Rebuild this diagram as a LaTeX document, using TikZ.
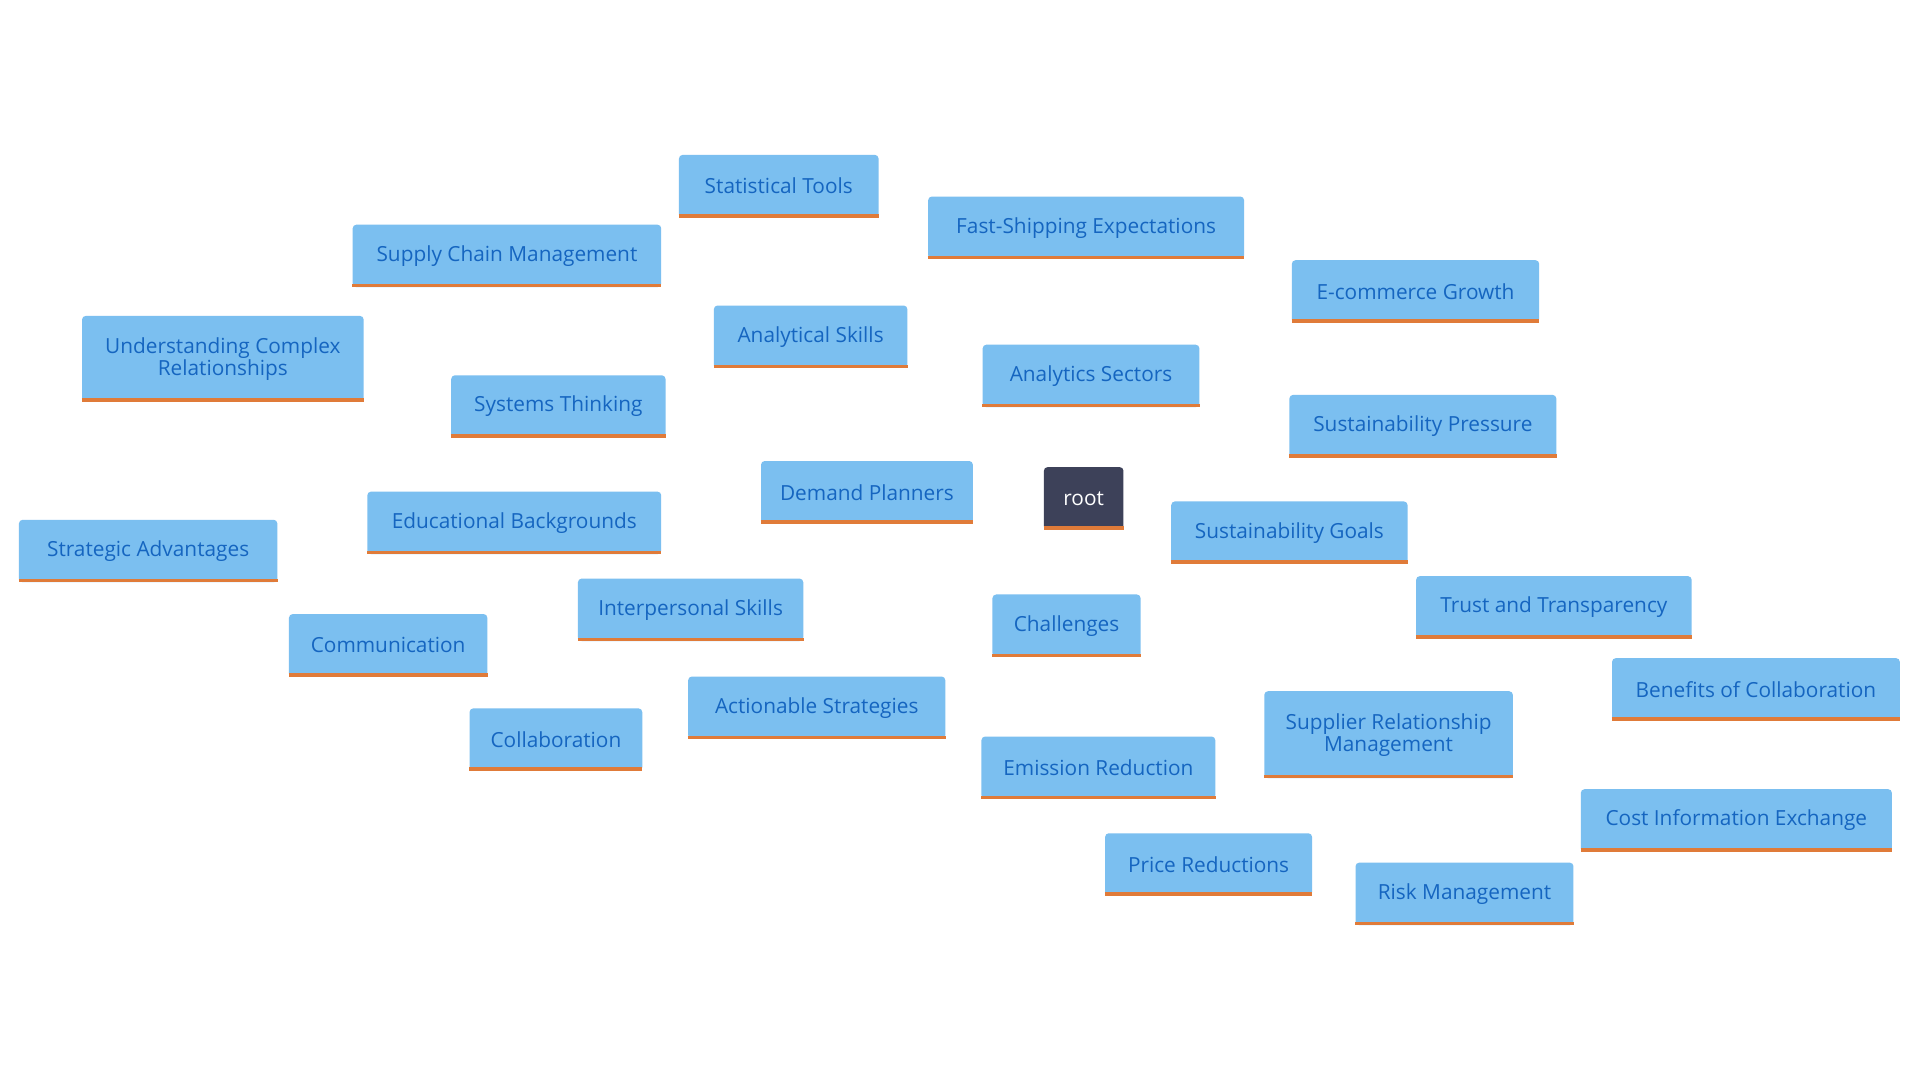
\documentclass[tikz,border=0pt]{standalone}
\usepackage{fontspec}
\setmainfont{Open Sans}
\usetikzlibrary{backgrounds}
\definecolor{bfill}{HTML}{7BBFF0}
\definecolor{btext}{HTML}{1565C0}
\definecolor{borange}{HTML}{E07B39}
\definecolor{rootc}{HTML}{3D4159}
\tikzset{
 box/.style={fill=bfill,text=btext,rounded corners=3pt,inner sep=0pt,align=center,font=\fontsize{17}{20}\selectfont},
 edge/.style={draw=bfill,line width=4pt},
}
\newcommand{\bx}[7][box]{\node[#1,minimum width=#5pt,minimum height=#6pt] (#2) at (#3,#4) {#7};
 \draw[borange,line width=3pt] ([yshift=1.5pt]#2.south west) -- ([yshift=1.5pt]#2.south east);}
\begin{document}
\begin{tikzpicture}[x=1pt,y=-1pt]
\path[use as bounding box,fill=white] (0,0) rectangle (1568,882);
\bx[box,fill=rootc,text=white]{root}{885}{407}{65}{51}{root}
\bx{dp}{708}{402}{173}{51}{Demand Planners}
\bx{as}{662}{275}{158}{51}{Analytical Skills}
\bx{st}{636}{152}{163}{51}{Statistical Tools}
\bx{scm}{414}{209}{252}{51}{Supply Chain Management}
\bx{sys}{456}{332}{175}{51}{Systems Thinking}
\bx{ucr}{182}{293}{230}{70}{Understanding Complex\\[-2pt]Relationships}
\bx{eb}{420}{427}{240}{51}{Educational Backgrounds}
\bx{sa}{121}{450}{211}{51}{Strategic Advantages}
\bx{is}{564}{498}{184}{51}{Interpersonal Skills}
\bx{com}{317}{527}{162}{51}{Communication}
\bx{col}{454}{604}{141}{51}{Collaboration}
\bx{an}{891}{307}{177}{51}{Analytics Sectors}
\bx{fse}{887}{186}{258}{51}{Fast-Shipping Expectations}
\bx{ecg}{1156}{238}{202}{51}{E-commerce Growth}
\bx{sp}{1162}{348}{218}{51}{Sustainability Pressure}
\bx{ch}{871}{511}{121}{51}{Challenges}
\bx{sg}{1053}{435}{193}{51}{Sustainability Goals}
\bx{acs}{667}{578}{210}{51}{Actionable Strategies}
\bx{er}{897}{627}{191}{51}{Emission Reduction}
\bx{srm}{1134}{600}{203}{71}{Supplier Relationship\\[-2pt]Management}
\bx{tt}{1269}{496}{225}{51}{Trust and Transparency}
\bx{bc}{1434}{563}{235}{51}{Benefits of Collaboration}
\bx{cie}{1418}{670}{254}{51}{Cost Information Exchange}
\bx{pr}{987}{706}{169}{51}{Price Reductions}
\bx{rm}{1196}{730}{178}{51}{Risk Management}
\begin{scope}[on background layer]
\foreach \a/\b in {root/dp,dp/as,as/st,as/scm,dp/sys,sys/ucr,dp/eb,eb/sa,dp/is,is/com,is/col,dp/an,an/fse,an/ecg,an/sp,dp/ch,ch/sg,ch/acs,ch/er,ch/srm,srm/tt,srm/bc,srm/cie,srm/pr,srm/rm}
  \draw[edge] (\a.center) -- (\b.center);
\end{scope}
\end{tikzpicture}
\end{document}
